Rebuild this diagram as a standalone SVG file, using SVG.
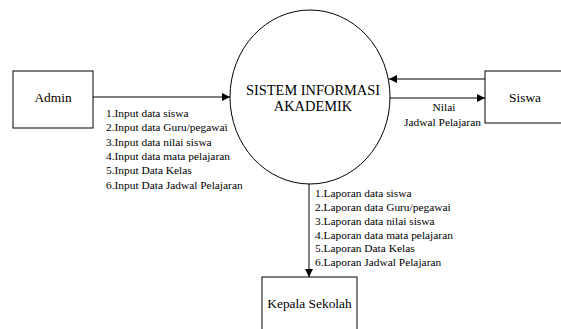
<svg xmlns="http://www.w3.org/2000/svg" width="561" height="329" viewBox="0 0 561 329">
<style>
  .box{fill:#fff;stroke:#000;stroke-width:1}
  .node{font-family:'Liberation Serif','DejaVu Serif',serif;font-size:13.4px;fill:#000;text-anchor:middle}
  .proc{font-family:'Liberation Serif','DejaVu Serif',serif;font-size:14.4px;fill:#000;text-anchor:middle}
  .lbl{font-family:'Liberation Serif','DejaVu Serif',serif;font-size:11.4px;fill:#000}
  .flow{stroke:#000;stroke-width:1;fill:none;marker-end:url(#arr)}
</style>
<defs>
  <marker id="arr" viewBox="0 0 10 10" refX="10" refY="5" markerWidth="8" markerHeight="8" markerUnits="userSpaceOnUse" orient="auto">
    <path d="M0,0 L10,5 L0,10 z" fill="#000"/>
  </marker>
</defs>
<rect width="561" height="329" fill="#fff"/>
<g id="connectors">
  <line class="flow" x1="93" y1="97" x2="230" y2="97"/>
  <line class="flow" x1="485" y1="79" x2="389" y2="79"/>
  <line class="flow" x1="389" y1="98" x2="485" y2="98"/>
  <line class="flow" x1="309" y1="184" x2="309" y2="277"/>
  <g class="lbl">
    <text x="106" y="117">1.Input data siswa</text>
    <text x="106" y="131">2.Input data Guru/pegawai</text>
    <text x="106" y="145.5">3.Input data nilai siswa</text>
    <text x="106" y="160">4.Input data mata pelajaran</text>
    <text x="106" y="174">5.Input Data Kelas</text>
    <text x="106" y="188.5">6.Input Data Jadwal Pelajaran</text>
  </g>
  <g class="lbl">
    <text x="444" y="111" text-anchor="middle">Nilai</text>
    <text x="442.5" y="126" text-anchor="middle">Jadwal Pelajaran</text>
  </g>
  <g class="lbl">
    <text x="315" y="197">1.Laporan data siswa</text>
    <text x="315" y="211">2.Laporan data Guru/pegawai</text>
    <text x="315" y="224.5">3.Laporan data nilai siswa</text>
    <text x="315" y="238.5">4.Laporan data mata pelajaran</text>
    <text x="315" y="252">5.Laporan Data Kelas</text>
    <text x="315" y="266">6.Laporan Jadwal Pelajaran</text>
  </g>
</g>
<g id="admin">
  <rect class="box" x="13" y="71" width="80" height="57"/>
  <text class="node" x="53" y="102">Admin</text>
</g>
<g id="sistem">
  <ellipse cx="310" cy="97" rx="80" ry="87" fill="#fff" stroke="#000" stroke-width="1"/>
  <text class="proc" x="313" y="95">SISTEM INFORMASI</text>
  <text class="proc" x="313" y="111">AKADEMIK</text>
</g>
<g id="siswa">
  <rect class="box" x="485" y="71" width="80" height="52"/>
  <text class="node" x="525" y="102">Siswa</text>
</g>
<g id="kepala">
  <rect class="box" x="262" y="277" width="95" height="60"/>
  <text class="node" x="309.5" y="308">Kepala Sekolah</text>
</g>
</svg>
